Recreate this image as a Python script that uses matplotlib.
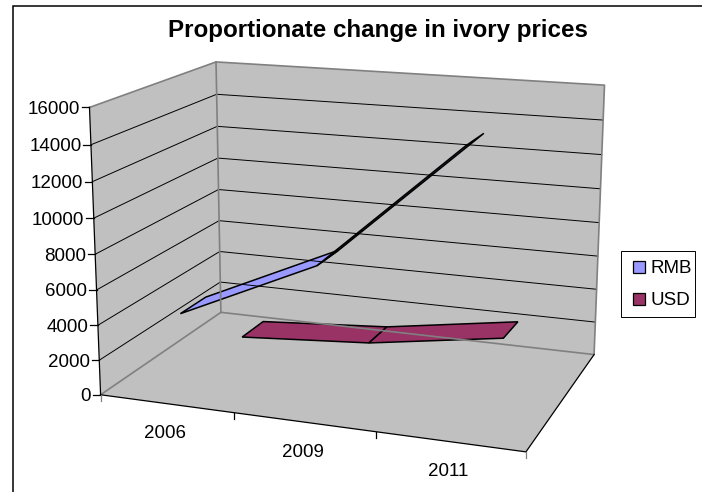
import matplotlib
matplotlib.use("Agg")
import matplotlib.pyplot as plt
import numpy as np
from matplotlib.patches import Polygon, Rectangle

plt.rcParams['font.family'] = ['Liberation Sans', 'DejaVu Sans']

years = ["2006", "2009", "2011"]
rmb = [4500, 8000, 15000]
usd = [600, 1150, 2350]
value_ticks = [0, 2000, 4000, 6000, 8000, 10000, 12000, 14000, 16000]
value_max = 16000

rmb_color = "#9999FF"
usd_color = "#993366"
wall_color = "#C0C0C0"
edge_gray = "#808080"

# box corners (across, up, into the page) and where they land on the canvas
box_points = [
    (0, 0, 0, 100.5, 395), (0, 1, 0, 89.5, 107.5), (0, 0, 1, 221, 312),
    (0, 1, 1, 216, 62), (1, 1, 1, 604.5, 85), (1, 0, 1, 594, 355),
    (1, 0, 0, 526, 451.5), (1 / 3, 0, 0, 234, 412.7), (2 / 3, 0, 0, 375.7, 431.7),
]


def fit_camera(points):
    rows = []
    rhs = []
    for u, v, w, px, py in points:
        rows.append([u, v, w, 1, 0, 0, 0, 0, -px * u, -px * v, -px * w])
        rhs.append(px)
        rows.append([0, 0, 0, 0, u, v, w, 1, -py * u, -py * v, -py * w])
        rhs.append(py)
    p = np.linalg.lstsq(np.array(rows), np.array(rhs), rcond=None)[0]
    return np.append(p, 1).reshape(3, 4)


camera = fit_camera(box_points)


def project(u, value, w):
    x, y, h = camera @ np.array([u, value / value_max, w, 1.0])
    return x / h, y / h


fig = plt.figure(figsize=(7.02, 4.92), dpi=100)
ax = fig.add_axes([0, 0, 1, 1])
ax.set_xlim(0, 702)
ax.set_ylim(492, 0)
ax.axis("off")

# chart frame, only the left and top sides show
ax.plot([12.5, 12.5, 702], [492, 6, 6], color="black", lw=1.1, solid_joinstyle="miter")

# walls and floor
left_wall = [project(0, 0, 0), project(0, value_max, 0), project(0, value_max, 1), project(0, 0, 1)]
back_wall = [project(0, 0, 1), project(0, value_max, 1), project(1, value_max, 1), project(1, 0, 1)]
floor = [project(0, 0, 0), project(0, 0, 1), project(1, 0, 1), project(1, 0, 0)]
for verts in (left_wall, back_wall, floor):
    ax.add_patch(Polygon(verts, closed=True, facecolor=wall_color, edgecolor="none"))

# gridlines run along the left wall and across the back wall
for t in value_ticks[1:-1]:
    pts = [project(0, t, 0), project(0, t, 1), project(1, t, 1)]
    ax.plot(*zip(*pts), color="black", lw=0.7)

# gray wall edges
ax.plot(*zip(project(0, value_max, 0), project(0, value_max, 1), project(1, value_max, 1),
             project(1, 0, 1), project(0, 0, 1), project(0, 0, 0)), color=edge_gray, lw=1.2)
ax.plot(*zip(project(0, 0, 1), project(0, value_max, 1)), color=edge_gray, lw=1.2)

# axes
ax.plot(*zip(project(0, value_max, 0), project(0, 0, 0), project(1, 0, 0), project(1, 0, 1)),
        color="black", lw=0.9)

for t in value_ticks:
    x, y = project(0, t, 0)
    ax.plot([x - 7.5, x], [y, y], color="black", lw=0.9)
    ax.text(x - 9.5, y + 2, str(t), ha="right", va="center", fontsize=13.5)

for i in range(4):
    x, y = project(i / 3, 0, 0)
    ax.plot([x, x], [y, y + 6.5], color=edge_gray if i in (0, 3) else "black", lw=0.9)

for i, year in enumerate(years):
    x, y = project((i + 0.5) / 3, 0, 0)
    ax.text(x - 1, y + 30, year, ha="center", va="center", fontsize=13.5)


def ribbon(values, color, w0, w1):
    us = [(i + 0.5) / 3 for i in range(len(values))]
    for i in range(len(values) - 1):
        quad = [project(us[i], values[i], w0), project(us[i + 1], values[i + 1], w0),
                project(us[i + 1], values[i + 1], w1), project(us[i], values[i], w1)]
        ax.add_patch(Polygon(quad, closed=True, facecolor=color, edgecolor="black", lw=1.1))


# back series first so the front one sits over it
ribbon(usd, usd_color, 0.64, 0.84)
ribbon(rmb, rmb_color, 0.125, 0.33)

ax.text(377.5, 30.5, "Proportionate change in ivory prices", ha="center", va="center",
        fontsize=17.4, fontweight="bold")

# legend box
ax.add_patch(Rectangle((621, 250.7), 73.7, 66, facecolor="white", edgecolor="black", lw=0.7))
for name, color, y in (("RMB", rmb_color, 267), ("USD", usd_color, 299)):
    ax.add_patch(Rectangle((633.3, y - 5.7), 11.4, 11.4, facecolor=color, edgecolor="black", lw=0.9))
    ax.text(651, y + 1.5, name, ha="left", va="center", fontsize=13.5)

fig.savefig("out.png", dpi=100)
